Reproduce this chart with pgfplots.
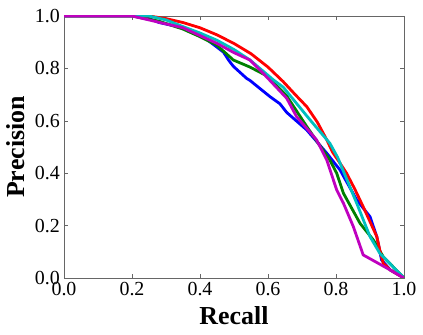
\documentclass[border=0pt]{standalone}
\usepackage{pgfplots}
\pgfplotsset{compat=1.18}
\usepackage{fontspec}
\setmainfont{Liberation Serif}

\definecolor{mplb}{rgb}{0,0,1}
\definecolor{mplg}{rgb}{0,0.5,0}
\definecolor{mplr}{rgb}{1,0,0}
\definecolor{mplc}{rgb}{0,0.75,0.75}
\definecolor{mplm}{rgb}{0.75,0,0.75}

\begin{document}
\begin{tikzpicture}
\begin{axis}[
    name=ax,
    scale only axis,
    width=340bp, height=262bp,
    xmin=0, xmax=1, ymin=0, ymax=1,
    xtick={0,0.2,...,1.0}, ytick={0,0.2,...,1.0},
    xticklabels={0.0,0.2,0.4,0.6,0.8,1.0},
    yticklabels={0.0,0.2,0.4,0.6,0.8,1.0},
    tick align=inside,
    xtick pos=both, ytick pos=both,
    xticklabel pos=lower, yticklabel pos=left,
    major tick length=4bp,
    axis line style={black!60},
    every tick/.style={black!60},
    tick label style={font=\fontsize{20}{24}\selectfont, inner sep=0pt},
    xticklabel style={yshift=-4bp},
    yticklabel style={xshift=-4bp},
    xlabel={Recall}, ylabel={Precision},
    label style={font=\fontsize{26}{30}\selectfont\bfseries, inner sep=0pt},
    xlabel style={at={(axis description cs:0.5,-0.107)}, anchor=north},
    ylabel style={at={(axis description cs:-0.115,0.5)}, rotate=0, anchor=south},
    every axis plot/.append style={line width=2.8bp, line join=round},
]
% blue
\addplot[mplb] coordinates {
(0,1) (0.2,1) (0.25,0.99) (0.28,0.975) (0.35,0.955) (0.4,0.93) (0.449,0.882)
(0.469,0.862) (0.485,0.83) (0.498,0.808) (0.537,0.762) (0.547,0.754) (0.606,0.692)
(0.635,0.665) (0.655,0.632) (0.714,0.565) (0.773,0.476) (0.812,0.412)
(0.861,0.298) (0.9,0.234) (0.92,0.158) (0.934,0.069) (0.96,0.03) (1,0)
};
% green
\addplot[mplg] coordinates {
(0,1) (0.2,1) (0.28,0.98) (0.35,0.95) (0.4,0.921) (0.449,0.889) (0.498,0.832)
(0.547,0.805) (0.596,0.772) (0.655,0.695) (0.714,0.578) (0.782,0.45)
(0.802,0.40) (0.822,0.323) (0.871,0.208) (0.91,0.145) (0.939,0.081) (1,0)
};
% red
\addplot[mplr] coordinates {
(0,1) (0.25,1) (0.3,0.99) (0.35,0.975) (0.4,0.955) (0.45,0.928) (0.5,0.895)
(0.55,0.856) (0.6,0.805) (0.645,0.749) (0.68,0.70) (0.714,0.654) (0.745,0.595)
(0.773,0.527) (0.79,0.48) (0.812,0.438) (0.831,0.40) (0.855,0.34) (0.88,0.272)
(0.9,0.215) (0.92,0.158) (0.93,0.10) (0.939,0.056) (0.96,0.03) (1,0)
};
% cyan
\addplot[mplc] coordinates {
(0,1) (0.25,1) (0.3,0.985) (0.351,0.959) (0.4,0.935) (0.449,0.908) (0.5,0.872)
(0.547,0.832) (0.616,0.756) (0.645,0.728) (0.724,0.603) (0.782,0.514)
(0.805,0.46) (0.861,0.285) (0.9,0.158) (0.929,0.094) (1,0)
};
% magenta
\addplot[mplm] coordinates {
(0,1) (0.2,1) (0.273,0.978) (0.35,0.955) (0.4,0.925) (0.449,0.896) (0.5,0.86)
(0.547,0.832) (0.586,0.781) (0.655,0.686) (0.684,0.616) (0.743,0.527)
(0.773,0.45) (0.802,0.336) (0.822,0.285) (0.851,0.196) (0.88,0.088)
(0.959,0.031) (1,0)
};
\end{axis}
\pgfresetboundingbox
\path ([shift={(-64bp,-57bp)}]ax.south west) rectangle ([shift={(19bp,16bp)}]ax.north east);
\end{tikzpicture}
\end{document}
